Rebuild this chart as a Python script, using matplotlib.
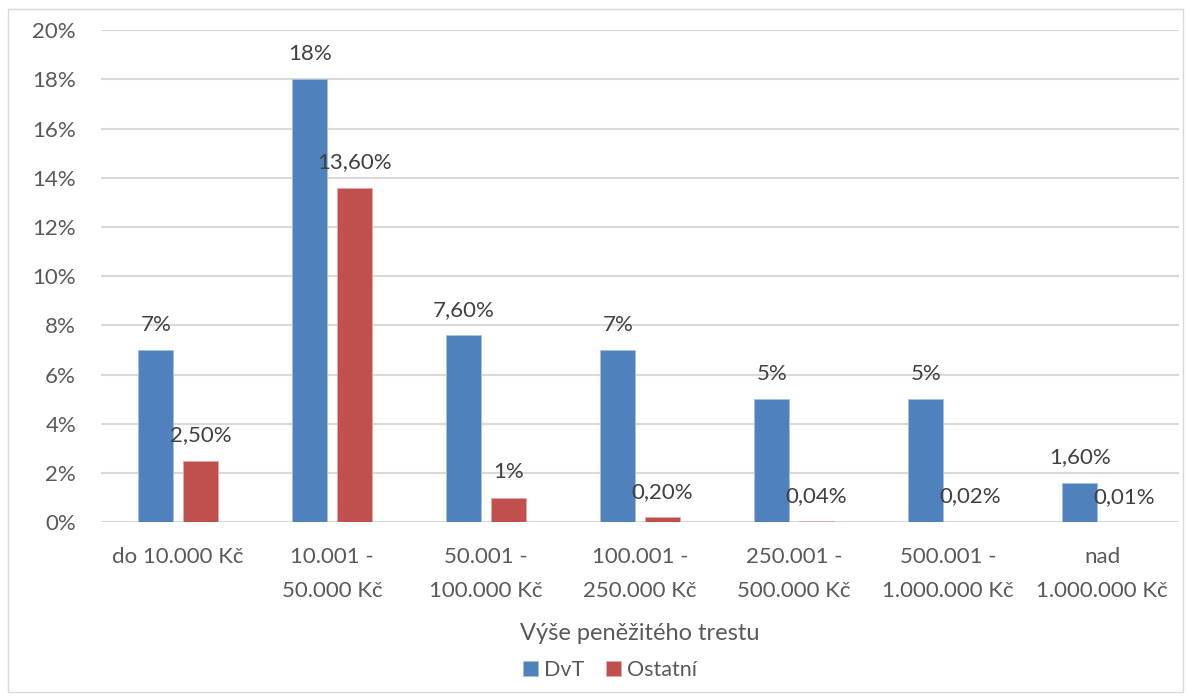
import matplotlib.pyplot as plt
import numpy as np
from matplotlib.patches import Rectangle

plt.rcParams['font.family'] = ['Lato', 'DejaVu Sans']

# Kategorie a podíly (v %)
kategorie = ["do 10.000 Kč", "10.001 -\n50.000 Kč", "50.001 -\n100.000 Kč",
             "100.001 -\n250.000 Kč", "250.001 -\n500.000 Kč",
             "500.001 -\n1.000.000 Kč", "nad\n1.000.000 Kč"]
dvt = [7, 18, 7.6, 7, 5, 5, 1.6]
ostatni = [2.5, 13.6, 1, 0.2, 0.04, 0.02, 0.01]
popisky_dvt = ["7%", "18%", "7,60%", "7%", "5%", "5%", "1,60%"]
popisky_ostatni = ["2,50%", "13,60%", "1%", "0,20%", "0,04%", "0,02%", "0,01%"]

seda = "#595959"
modra = "#4F81BD"
cervena = "#C0504D"

fig = plt.figure(figsize=(11.89, 7), dpi=100)
ax = fig.add_axes([0.085, 0.254, 0.9066, 0.703])

x = np.arange(len(kategorie))
w = 0.23
b1 = ax.bar(x - 0.145, dvt, w, color=modra, edgecolor="#A7C0DE", linewidth=0.6, label="DvT", zorder=3)
b2 = ax.bar(x + 0.145, ostatni, w, color=cervena, edgecolor="#E6A9A8", linewidth=0.6, label="Ostatní", zorder=3)

for bars, texty in ((b1, popisky_dvt), (b2, popisky_ostatni)):
    for r, t in zip(bars, texty):
        ax.annotate(t, (r.get_x() + r.get_width() / 2, r.get_height()),
                    xytext=(0, 11), textcoords="offset points",
                    ha="center", va="bottom", fontsize=16, color="#404040")

ax.set_xlim(-0.5, len(kategorie) - 0.5)
ax.set_ylim(0, 20)
ax.set_yticks(np.arange(0, 21, 2))
ax.set_yticklabels([f"{v}%" for v in range(0, 21, 2)])
ax.set_xticks(x)
ax.set_xticklabels(kategorie, linespacing=1.85)
ax.tick_params(axis="both", length=0, labelsize=16, colors=seda)
ax.tick_params(axis="x", pad=18)
ax.tick_params(axis="y", pad=18)
ax.yaxis.grid(True, color="#D9D9D9", linewidth=1.5, zorder=0)
for s in ax.spines.values():
    s.set_visible(False)

ax.set_xlabel("Výše peněžitého trestu", fontsize=17, color=seda, labelpad=16)

fig.legend(loc="center", bbox_to_anchor=(0.513, 0.043), ncol=2, frameon=False,
           fontsize=15.5, labelcolor=seda, handlelength=0.7, handleheight=0.7,
           handletextpad=0.3, columnspacing=1.0)

fig.add_artist(Rectangle((0.007, 0.012), 0.988, 0.975, transform=fig.transFigure,
                         fill=False, edgecolor="#D9D9D9", linewidth=1))

fig.savefig("out.png", dpi=100)
